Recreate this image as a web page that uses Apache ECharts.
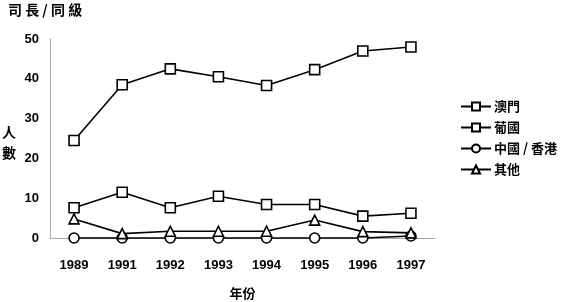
<!DOCTYPE html>
<html><head><meta charset="utf-8">
<script src="https://cdn.jsdelivr.net/npm/echarts@6/dist/echarts.min.js"></script>
<style>html,body{margin:0;padding:0;background:#fff}#c{width:574px;height:302px}</style>
</head><body><div id="c"></div>
<script>
var years = ['1989','1991','1992','1993','1994','1995','1996','1997'];
var macau = [24.5, 38.5, 42.5, 40.5, 38.3, 42.3, 47, 48];
var portugal = [7.6, 11.5, 7.6, 10.5, 8.4, 8.4, 5.5, 6.2];
var chinaHK = [0, 0, 0, 0, 0, 0, 0, 0.5];
var others = [4.8, 1.1, 1.7, 1.7, 1.7, 4.5, 1.6, 1.3];
var seriesNames = ['澳門', '葡國', '中國 / 香港', '其他'];
var yTicks = [0, 10, 20, 30, 40, 50];

var cjk = '"Noto Sans CJK TC", "Noto Sans CJK SC", sans-serif';
var num = '"Liberation Sans", Arial, sans-serif';
var chart = echarts.init(document.getElementById('c'));
function mk(name, data, symbol, size) {
  return {
    name: name, type: 'line', data: data, symbol: symbol, symbolSize: size,
    showAllSymbol: true, clip: false, z: 5,
    lineStyle: {color: '#000', width: 1.6},
    itemStyle: {color: '#fff', borderColor: '#000', borderWidth: 1.6},
    emphasis: {disabled: true}
  };
}
chart.setOption({
  animation: false,
  backgroundColor: '#fff',
  textStyle: {fontFamily: cjk},
  grid: {left: 50, right: 139, top: 39, bottom: 64, containLabel: false, outerBoundsMode: 'none'},
  graphic: [
    {type: 'text', left: 8, top: 3, style: {text: '司 長 / 同 級', font: 'bold 14px ' + cjk, fill: '#000'}},
    {type: 'text', left: 2, top: 121, style: {text: '人\n數', font: 'bold 14px ' + cjk, fill: '#000', lineHeight: 21}}
  ],
  legend: {
    orient: 'vertical', left: 455, top: 95, itemGap: 8, itemWidth: 30, itemHeight: 10,
    textStyle: {fontFamily: cjk, fontSize: 13, fontWeight: 'bold', color: '#000', padding: [0,0,0,-2]},
    data: seriesNames.map(function (n) { return {name: n}; })
  },
  xAxis: {
    type: 'category', data: years, boundaryGap: true, z: 0,
    name: '年份', nameLocation: 'middle', nameGap: 49,
    nameTextStyle: {fontFamily: cjk, fontSize: 13, fontWeight: 'bold', color: '#000'},
    axisLine: {lineStyle: {color: '#aaa', width: 1}},
    axisTick: {inside: true, length: 4, lineStyle: {color: '#aaa'}},
    axisLabel: {fontFamily: num, fontSize: 13, fontWeight: 'bold', color: '#000', margin: 21}
  },
  yAxis: {
    type: 'value', min: yTicks[0], max: yTicks[yTicks.length - 1], interval: 10, z: 0,
    axisLine: {show: true, lineStyle: {color: '#999', type: 'dotted', width: 1}},
    axisTick: {show: false},
    splitLine: {show: false},
    axisLabel: {fontFamily: num, fontSize: 13, fontWeight: 'bold', color: '#000', margin: 11}
  },
  series: [
    mk(seriesNames[0], macau, 'rect', 10),
    mk(seriesNames[1], portugal, 'rect', 10),
    mk(seriesNames[2], chinaHK, 'circle', 10),
    mk(seriesNames[3], others, 'triangle', 10)
  ]
});
</script></body></html>
